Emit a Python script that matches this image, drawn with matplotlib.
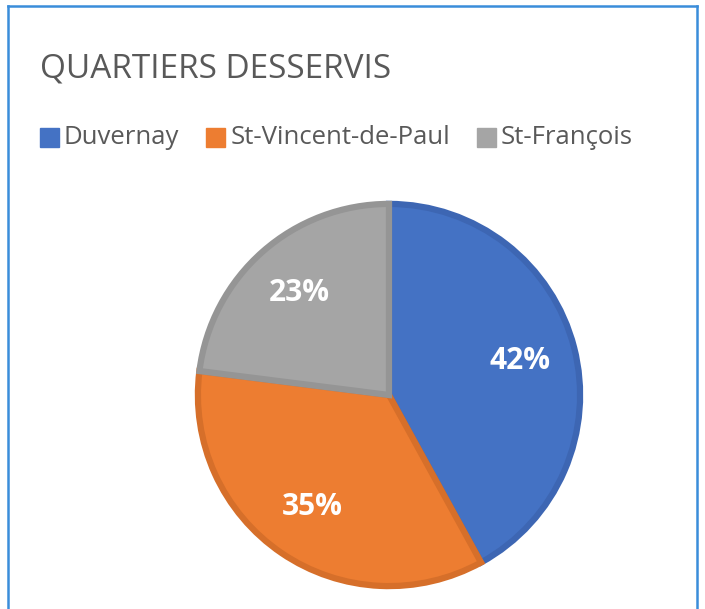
import matplotlib.pyplot as plt
from matplotlib.lines import Line2D

quartiers = ["Duvernay", "St-Vincent-de-Paul", "St-François"]
parts = [42, 35, 23]
couleurs = ["#4472C4", "#ED7D31", "#A5A5A5"]
bords = ["#3D66B3", "#D66F2A", "#959595"]

W, H = 705, 609
fig = plt.figure(figsize=(W / 100, H / 100), dpi=100)

# cadre bleu autour du graphique
cadre = "#3A8DDA"
fig.add_artist(Line2D([8 / W, 8 / W], [0, 1 - 6 / H], color=cadre, lw=1.8))
fig.add_artist(Line2D([8 / W, 697 / W], [1 - 6 / H, 1 - 6 / H], color=cadre, lw=1.8))
fig.add_artist(Line2D([697 / W, 697 / W], [0, 1 - 6 / H], color=cadre, lw=1.8))

fig.text(40 / W, 1 - 69 / H, "QUARTIERS DESSERVIS", fontsize=24, color="#595959",
         family="Open Sans", va="center", ha="left")

# légende
lx = 40
for nom, c in zip(quartiers, couleurs):
    fig.add_artist(plt.Rectangle((lx / W, 1 - 147 / H), 19 / W, 19 / H, color=c,
                                 transform=fig.transFigure))
    t = fig.text((lx + 24) / W, 1 - 137 / H, nom, fontsize=18.5, color="#595959",
                 family="Open Sans", va="center", ha="left")
    fig.canvas.draw()
    bb = t.get_window_extent()
    lx = bb.x1 + 27

ax = fig.add_axes([196 / W, 21 / H, 386 / W, 386 / H])
wedges, texts, autotexts = ax.pie(parts, colors=couleurs, startangle=90, counterclock=False,
                                  autopct="%d%%", pctdistance=0.71,
                                  wedgeprops=dict(linewidth=4.5))
for w, b in zip(wedges, bords):
    w.set_edgecolor(b)
for t in autotexts:
    t.set_color("white")
    t.set_fontsize(21.5)
    t.set_fontweight("bold")
    t.set_family("Open Sans")
ax.set_xlim(-1.01, 1.01)
ax.set_ylim(-1.01, 1.01)
ax.set_aspect("equal")
ax.axis("off")

fig.savefig("out.png", dpi=100)
